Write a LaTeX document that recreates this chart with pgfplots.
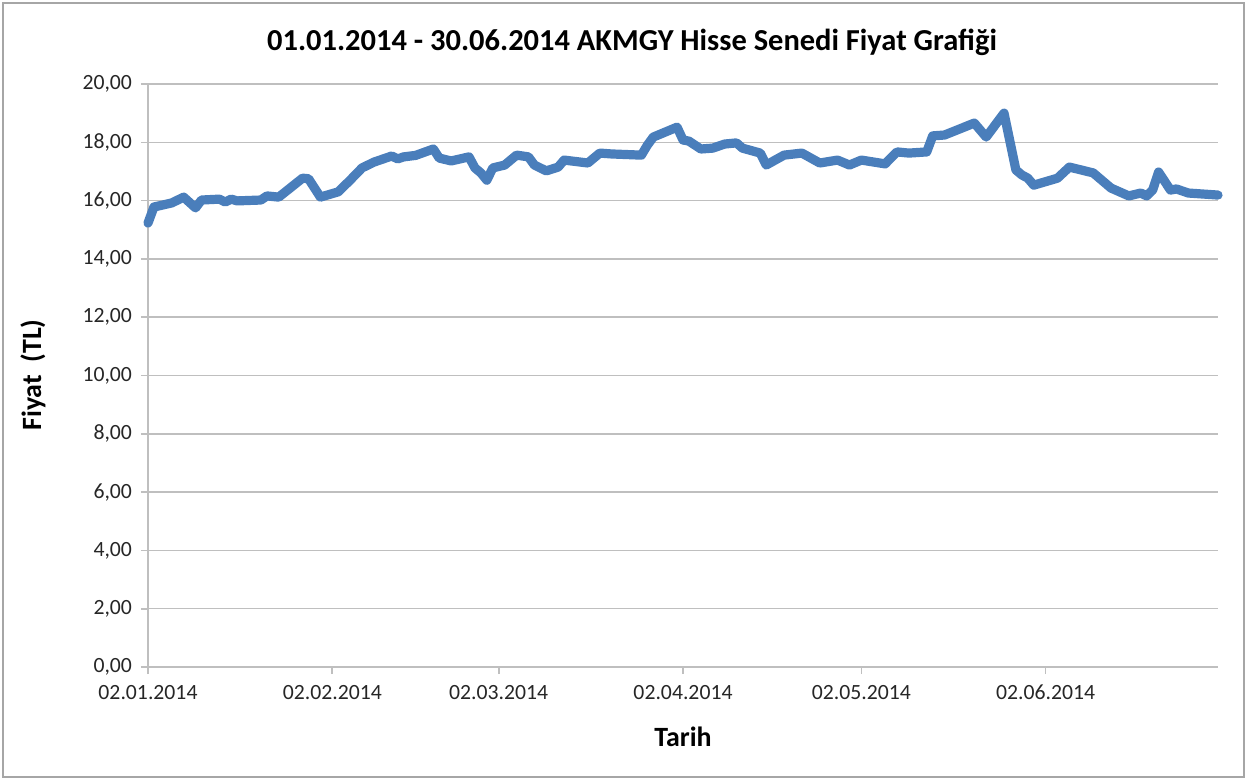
\documentclass[border=0pt]{standalone}
\usepackage{pgfplots}
\pgfplotsset{compat=1.18}
\usepackage{fontspec}
\setmainfont{Carlito}
\definecolor{exblue}{HTML}{4A7EBB}
\definecolor{gridgray}{HTML}{BFBFBF}
\definecolor{txt}{HTML}{262626}
\begin{document}
\begin{tikzpicture}[x=1bp,y=1bp]
\begin{axis}[
  scale only axis,
  width=535bp, height=291.5bp,
  at={(0,0)}, anchor=south west,
  xmin=0, xmax=180, ymin=0, ymax=20,
  axis x line=bottom, axis y line=left,
  axis line style={gridgray, line width=0.8bp, -},
  xtick={0,31,59,90,120,151},
  xticklabels={02.01.2014,02.02.2014,02.03.2014,02.04.2014,02.05.2014,02.06.2014},
  ytick={0,2,...,20},
  ymajorgrids, grid style={gridgray, line width=0.75bp},
  tick style={gridgray, line width=0.8bp},
  tick align=outside, major tick length=3.5bp,
  tick label style={font=\fontsize{10.9}{13}\selectfont, text=txt},
  /pgf/number format/assume math mode=true,
  yticklabel={\pgfmathprintnumber[fixed,fixed zerofill,precision=2,use comma]{\tick}},
  xticklabel style={yshift=-2bp},
  yticklabel style={xshift=-1bp},
  clip=false,
]
\addplot[exblue, line width=4.6bp, line join=round, line cap=round] coordinates {
(0,15.23) (1,15.78) (4,15.92) (6,16.12) (8,15.75) (9,16.02) (12,16.05) (13,15.95)
(14,16.05) (15,15.99) (19,16.02) (20,16.16) (22,16.12) (26,16.77) (27,16.75)
(29,16.12) (32,16.30) (34,16.70) (36,17.12) (38,17.32) (40,17.46) (41,17.53)
(42,17.43) (43,17.50) (45,17.55) (48,17.77) (49,17.46) (51,17.36) (54,17.50)
(55,17.12) (56,16.95) (57,16.70) (58,17.12) (60,17.22) (62,17.56) (64,17.50)
(65,17.22) (67,17.02) (69,17.15) (70,17.39) (74,17.29) (76,17.63) (78,17.60)
(83,17.56) (84,17.90) (85,18.18) (89,18.52) (90,18.08) (91,18.04) (93,17.77)
(95,17.80) (97,17.94) (99,17.98) (100,17.80) (103,17.63) (104,17.22) (107,17.56)
(110,17.63) (113,17.29) (116,17.39) (118,17.22) (120,17.39) (124,17.26) (126,17.67)
(128,17.63) (131,17.67) (132,18.22) (134,18.25) (139,18.66) (141,18.18) (144,19.00)
(146,17.05) (147,16.88) (148,16.77) (149,16.53) (153,16.77) (155,17.15) (159,16.95)
(162,16.43) (165,16.16) (167,16.26) (168,16.16) (169,16.36) (170,16.98) (172,16.36)
(173,16.40) (175,16.26) (180,16.19)
};
\end{axis}
\node[font=\bfseries\fontsize{15.3}{18}\selectfont, text=black] at (242,312.5) {01.01.2014 - 30.06.2014 AKMGY Hisse Senedi Fiyat Grafiği};
\node[font=\bfseries\fontsize{14}{16}\selectfont, text=black] at (267.5,-35) {Tarih};
\node[font=\bfseries\fontsize{14}{16}\selectfont, text=black, rotate=90] at (-57.5,146) {Fiyat\ \ (TL)};
\draw[gray!70, line width=1bp] (-72.5,-55) rectangle (548,332);
\pgfresetboundingbox
\useasboundingbox (-74,-56.5) rectangle (549.5,333.5);
\end{tikzpicture}
\end{document}
